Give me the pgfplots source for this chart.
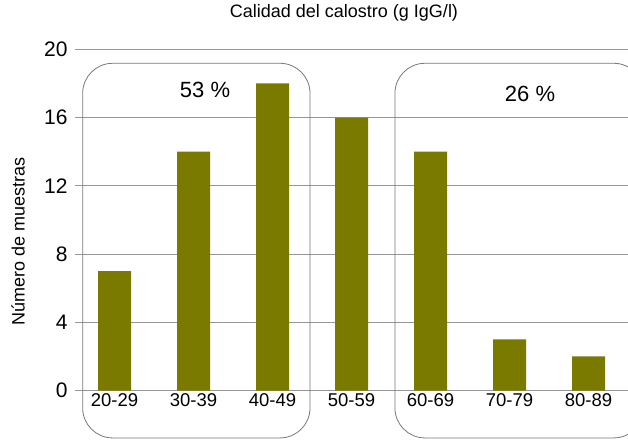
\documentclass[border=0pt]{standalone}
\usepackage{pgfplots}
\pgfplotsset{compat=1.18}
\usepackage{fontspec}
\setmainfont{Liberation Sans}
\definecolor{olivebar}{RGB}{122,122,0}
\definecolor{gridgray}{RGB}{150,150,150}
\begin{document}
\begin{tikzpicture}
\begin{axis}[
  at={(75pt,48.5pt)}, anchor=south west,
  scale only axis,
  width=553pt, height=341.2pt,
  xmin=-0.5, xmax=6.5,
  ymin=0, ymax=20,
  ytick={0,4,8,12,16,20},
  xtick={0,1,2,3,4,5,6},
  xticklabels={20-29,30-39,40-49,50-59,60-69,70-79,80-89},
  ymajorgrids,
  grid style={gridgray, line width=0.8pt},
  axis line style={draw=none},
  major tick length=0pt,
  xticklabel style={font=\fontsize{18.5}{22}\selectfont},
  yticklabel style={font=\fontsize{21}{24}\selectfont, xshift=-4pt},
  /pgf/number format/assume math mode=true,
  title={Calidad del calostro (g IgG/l)},
  title style={at={(0.4864,1)}, anchor=base, yshift=26pt, font=\fontsize{18}{22}\selectfont},
  ylabel={Número de muestras},
  ylabel style={at={(rel axis cs:-0.103,0.438)}, anchor=center, font=\fontsize{18}{22}\selectfont},
  clip=false,
]
\addplot[ybar, bar width=33pt, fill=olivebar, draw=none] coordinates {
  (0,7) (1,14) (2,18) (3,16) (4,14) (5,3) (6,2)
};
\draw[gridgray!80!black, line width=0.8pt, rounded corners=30pt] (axis cs:-0.403,-2.78) rectangle (axis cs:2.475,19.18);
\draw[gridgray!80!black, line width=0.8pt, rounded corners=30pt] (axis cs:3.55,-2.78) rectangle (axis cs:6.70,19.18);
\node[anchor=base, font=\fontsize{22}{26}\selectfont] at (axis cs:1.146,17.15) {53 \%};
\node[anchor=base, font=\fontsize{22}{26}\selectfont] at (axis cs:5.26,16.95) {26 \%};
\end{axis}
\pgfresetboundingbox
\useasboundingbox (0,0) rectangle (628pt,439pt);
\end{tikzpicture}
\end{document}
